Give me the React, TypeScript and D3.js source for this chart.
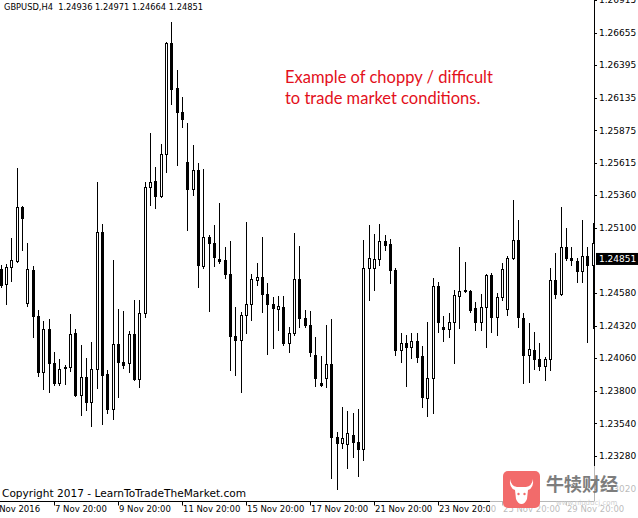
import React from 'react';
import * as d3 from 'd3';

// ---------- data ----------
const headerText = 'GBPUSD,H4  1.24936 1.24971 1.24664 1.24851';

const barOpen = [
  1.24771, 1.24652, 1.24787, 1.24835, 1.25265, 1.24500, 1.24763, 1.24397, 1.23950, 1.24293,
  1.24022, 1.23863, 1.23982, 1.23990, 1.24261, 1.23767, 1.23910, 1.23711, 1.23974, 1.25066,
  1.23934, 1.23655, 1.24173, 1.24030, 1.24022, 1.24253, 1.23894, 1.24420, 1.25425, 1.25472,
  1.25353, 1.25688, 1.26572, 1.26214, 1.26022, 1.25624, 1.25409, 1.25560, 1.24795, 1.25026,
  1.24978, 1.24851, 1.24843, 1.24731, 1.24237, 1.24205, 1.24404, 1.24492, 1.24683, 1.24707,
  1.24572, 1.24492, 1.24452, 1.24468, 1.24181, 1.24261, 1.24691, 1.24381, 1.24325, 1.24086,
  1.23863, 1.23902, 1.24014, 1.23432, 1.23384, 1.23376, 1.23448, 1.23392, 1.23336, 1.24779,
  1.24779, 1.24851, 1.24994, 1.24970, 1.24763, 1.24126, 1.24181, 1.24149, 1.24197, 1.24078,
  1.23743, 1.23902, 1.24636, 1.24309, 1.24293, 1.24349, 1.24556, 1.24604, 1.24596, 1.24460,
  1.24349, 1.24468, 1.24723, 1.24389, 1.24548, 1.24452, 1.24859, 1.25002, 1.24381, 1.24086,
  1.24126, 1.24054, 1.23998, 1.24054, 1.24683, 1.24572, 1.24946, 1.24859, 1.24835, 1.24755,
  1.24875, 1.24803,
];
const barHigh = [
  1.24803, 1.24811, 1.25018, 1.25576, 1.25273, 1.24978, 1.24795, 1.24444, 1.24357, 1.24373,
  1.24110, 1.24054, 1.24006, 1.24412, 1.24293, 1.24165, 1.24062, 1.24189, 1.25465, 1.25130,
  1.23966, 1.24843, 1.24452, 1.24436, 1.24277, 1.24524, 1.24524, 1.25465, 1.25855, 1.25584,
  1.25767, 1.26580, 1.26740, 1.26357, 1.26142, 1.25935, 1.25759, 1.25616, 1.25568, 1.25042,
  1.25122, 1.25297, 1.24946, 1.24994, 1.24468, 1.24428, 1.25146, 1.24731, 1.24819, 1.25026,
  1.24660, 1.24548, 1.24556, 1.24556, 1.24309, 1.25058, 1.24954, 1.24444, 1.24436, 1.24229,
  1.24078, 1.24325, 1.24373, 1.23472, 1.23671, 1.23639, 1.23623, 1.23655, 1.25002, 1.25122,
  1.25050, 1.25130, 1.25042, 1.25010, 1.24779, 1.24261, 1.24245, 1.24261, 1.24261, 1.24157,
  1.24349, 1.24699, 1.24668, 1.24397, 1.24420, 1.24604, 1.24946, 1.24827, 1.24604, 1.24508,
  1.24572, 1.24731, 1.24739, 1.24580, 1.24819, 1.24875, 1.25321, 1.25162, 1.24420, 1.24341,
  1.24269, 1.24181, 1.24070, 1.24779, 1.24899, 1.25265, 1.25098, 1.24946, 1.24859, 1.25162,
  1.24946, 1.25138,
];
const barLow = [
  1.24628, 1.24492, 1.24675, 1.24827, 1.24923, 1.24476, 1.24229, 1.23918, 1.23815, 1.23791,
  1.23847, 1.23847, 1.23855, 1.23958, 1.23759, 1.23608, 1.23647, 1.23520, 1.23823, 1.23536,
  1.23623, 1.23576, 1.23751, 1.23982, 1.23950, 1.23886, 1.23831, 1.24389, 1.25281, 1.25257,
  1.25345, 1.25544, 1.26086, 1.25600, 1.25903, 1.25082, 1.25361, 1.24628, 1.24779, 1.24436,
  1.24795, 1.24819, 1.24699, 1.23966, 1.23926, 1.23791, 1.24261, 1.24365, 1.24644, 1.24428,
  1.24094, 1.24141, 1.24285, 1.24165, 1.24110, 1.24245, 1.24309, 1.24309, 1.24078, 1.23839,
  1.23839, 1.23831, 1.23105, 1.23018, 1.23344, 1.23185, 1.23273, 1.23121, 1.23249, 1.24524,
  1.24604, 1.24803, 1.24923, 1.24660, 1.24086, 1.24030, 1.23839, 1.24062, 1.24030, 1.23671,
  1.23600, 1.23623, 1.24269, 1.24197, 1.24229, 1.24022, 1.24301, 1.24588, 1.24428, 1.24285,
  1.24285, 1.24149, 1.24269, 1.24245, 1.24524, 1.24404, 1.24851, 1.24309, 1.23863, 1.23871,
  1.23974, 1.23966, 1.23886, 1.23966, 1.24540, 1.24564, 1.24843, 1.24803, 1.24668, 1.24668,
  1.24189, 1.24301,
];
const barClose = [
  1.24644, 1.24787, 1.24843, 1.25265, 1.25178, 1.24771, 1.24397, 1.23950, 1.24293, 1.24022,
  1.23863, 1.23974, 1.23990, 1.24253, 1.23767, 1.23910, 1.23711, 1.23974, 1.25066, 1.23926,
  1.23655, 1.24173, 1.24030, 1.24006, 1.24253, 1.23894, 1.24420, 1.25425, 1.25465, 1.25353,
  1.25688, 1.26572, 1.26206, 1.26022, 1.25967, 1.25409, 1.25560, 1.24803, 1.25026, 1.24978,
  1.24867, 1.24835, 1.24731, 1.24237, 1.24205, 1.24404, 1.24492, 1.24691, 1.24707, 1.24572,
  1.24492, 1.24460, 1.24476, 1.24181, 1.24261, 1.24691, 1.24381, 1.24325, 1.24110, 1.23902,
  1.23847, 1.24014, 1.23432, 1.23384, 1.23424, 1.23464, 1.23392, 1.23336, 1.24779, 1.24859,
  1.24851, 1.24994, 1.24962, 1.24763, 1.24126, 1.24181, 1.24149, 1.24197, 1.24070, 1.23751,
  1.23902, 1.24636, 1.24349, 1.24293, 1.24349, 1.24564, 1.24596, 1.24596, 1.24444, 1.24349,
  1.24468, 1.24723, 1.24389, 1.24548, 1.24771, 1.24859, 1.25002, 1.24389, 1.24086, 1.24133,
  1.24054, 1.23998, 1.24054, 1.24683, 1.24572, 1.24946, 1.24859, 1.24843, 1.24755, 1.24875,
  1.24803, 1.24978,
];

const priceTicks = [1.26915, 1.26655, 1.26395, 1.26135, 1.25875, 1.25615, 1.2536, 1.251, 1.2458, 1.2432, 1.2406, 1.238, 1.2354, 1.2328, 1.2302];
const priceTickLabels = ['1.26915', '1.26655', '1.26395', '1.26135', '1.25875', '1.25615', '1.25360', '1.25100', '1.24580', '1.24320', '1.24060', '1.23800', '1.23540', '1.23280', '1.23020'];
const lastPrice = 1.24851;
const lastPriceLabel = '1.24851';

const timeTickBars = [-2, 10, 22, 34, 46, 58, 70, 82, 94, 106];
const timeTickLabels = ['4 Nov 2016', '7 Nov 20:00', '9 Nov 20:00', '11 Nov 20:00', '15 Nov 20:00', '17 Nov 20:00', '21 Nov 20:00', '23 Nov 20:00', '25 Nov 20:00', '29 Nov 20:00'];

const noteLines = ['Example of choppy / difficult', 'to trade market conditions.'];
const copyrightText = 'Copyright 2017 - LearnToTradeTheMarket.com';
const watermarkText = '牛犊财经';

// ---------- layout ----------
const W = 638;
const H = 518;
const plotRight = 594;
const axisY = 501.5;
const AX_FONT = '"DejaVu Sans", Verdana, sans-serif';

export default function App() {
  const x = d3.scaleLinear().domain([0, 1]).range([0.667, 6.0]);
  const y = d3.scaleLinear().domain([1.26915, 1.2302]).range([0, 488.7]);
  const bars = barOpen.map((o, i) => ({ i, o, h: barHigh[i], l: barLow[i], c: barClose[i] }));

  return (
    <svg
      width={W}
      height={H}
      style={{ position: 'absolute', left: 0, top: 0, background: '#fff', display: 'block' }}
    >
      <rect x={0} y={0} width={W} height={H} fill="#fff" />
      <g>
        {bars.map((b) => {
          const px = Math.round(x(b.i));
          const bull = b.c >= b.o;
          const top = Math.round(y(Math.max(b.o, b.c))) + 0.5;
          const bot = Math.round(y(Math.min(b.o, b.c))) + 0.5;
          return (
            <g key={b.i}>
              <line x1={px + 0.5} x2={px + 0.5} y1={Math.round(y(b.h))} y2={Math.round(y(b.l)) + 1} stroke="#000" strokeWidth={1} />
              <rect
                x={px - 0.5}
                y={top}
                width={2}
                height={Math.max(bot - top, 1)}
                fill={bull ? '#fff' : '#000'}
                stroke="#000"
                strokeWidth={1}
              />
            </g>
          );
        })}
      </g>

      {/* header */}
      <text x={4} y={9.5} fontFamily={AX_FONT} fontSize={8.5} fill="#000" textLength={199} lengthAdjust="spacingAndGlyphs" style={{ whiteSpace: 'pre' }}>
        {headerText}
      </text>

      {/* annotation */}
      {noteLines.map((t, i) => (
        <text key={i} x={285} y={83 + i * 21} fontFamily="Lato, 'Open Sans', sans-serif" fontSize={16.5} fill="#e3101b">
          {t}
        </text>
      ))}

      {/* right price axis */}
      <line x1={plotRight + 0.5} x2={plotRight + 0.5} y1={0} y2={axisY} stroke="#000" strokeWidth={1} />
      {priceTicks.map((p, i) => (
        <g key={i}>
          <line x1={plotRight} x2={plotRight + 3} y1={Math.round(y(p)) + 0.5} y2={Math.round(y(p)) + 0.5} stroke="#000" />
          <text x={599} y={y(p)} dy="0.35em" fontFamily={AX_FONT} fontSize={9} fill="#000">
            {priceTickLabels[i]}
          </text>
        </g>
      ))}
      <rect x={596} y={y(lastPrice) - 6} width={W - 596} height={12} fill="#000" />
      <text x={599} y={y(lastPrice)} dy="0.35em" fontFamily={AX_FONT} fontSize={9} fill="#fff">
        {lastPriceLabel}
      </text>

      {/* bottom time axis */}
      <line x1={0} x2={plotRight} y1={axisY} y2={axisY} stroke="#000" strokeWidth={1} />
      {timeTickBars.map((b, i) => (
        <g key={i}>
          <line x1={Math.round(x(b)) + 0.5} x2={Math.round(x(b)) + 0.5} y1={axisY} y2={axisY + 4} stroke="#000" />
          <text x={x(b) + 1} y={512} fontFamily={AX_FONT} fontSize={8.5} fill="#000">
            {timeTickLabels[i]}
          </text>
        </g>
      ))}

      {/* copyright */}
      <text x={2} y={497} fontFamily={AX_FONT} fontSize={10.5} fill="#000" textLength={244} lengthAdjust="spacingAndGlyphs">
        {copyrightText}
      </text>

      {/* watermark */}
      <rect x={490} y={466} width={W - 490} height={H - 466} fill="#fff" opacity={0.72} />
      <g transform="translate(503,471)">
        <rect x={0} y={0} width={37} height={37} rx={5} fill="#f26b6b" />
        <path
          d="M7 8 Q8 15 14 16 L23 16 Q29 15 30 8 Q31 17 25 19 L24 28 Q22 33 18.5 33 Q15 33 13 28 L12 19 Q6 17 7 8 Z"
          fill="#fff"
        />
        <circle cx={15.5} cy={23} r={1.2} fill="#f26b6b" />
        <circle cx={21.5} cy={23} r={1.2} fill="#f26b6b" />
      </g>
      <text x={546} y={491} fontFamily="'Noto Sans CJK SC', sans-serif" fontWeight={700} fontSize={18} fill="#7d7d7d" textLength={72} lengthAdjust="spacingAndGlyphs">
        {watermarkText}
      </text>
      <text x={556} y={505} fontFamily={AX_FONT} fontSize={7} fill="#cfcfcf">
        www.niuducj.com
      </text>
    </svg>
  );
}
